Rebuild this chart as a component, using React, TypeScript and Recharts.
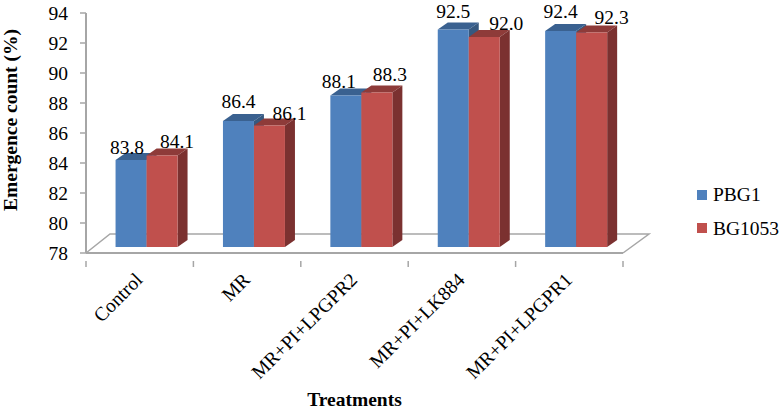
import { BarChart, Bar, XAxis, YAxis, Legend, LabelList, usePlotArea } from 'recharts';

const treatments = ['Control', 'MR', 'MR+PI+LPGPR2', 'MR+PI+LK884', 'MR+PI+LPGPR1'];
const pbg1 = [83.8, 86.4, 88.1, 92.5, 92.4];
const bg1053 = [84.1, 86.1, 88.3, 92.0, 92.3];
const yTicks = [78, 80, 82, 84, 86, 88, 90, 92, 94];

const chartData = treatments.map((name, i) => ({ name, PBG1: pbg1[i], BG1053: bg1053[i] }));

const FONT = '"Liberation Serif", "Times New Roman", serif';
const AXIS_GRAY = '#a6a6a6';
const FONT_SIZE = 19.5;

// fake 3D: front face is pushed off the axis, depth goes up and to the right
const SHIFT_X = 7;
const SHIFT_Y = -6;
const DEPTH_X = 10;
const DEPTH_Y = -7;
const FLOOR_X = 25;
const FLOOR_Y = -19;
const BAND = 107.4;

// hand placed label nudges, the original has them dragged around
const pbgLabelNudge = [[-4, -6], [0, -13], [-7, -8], [0, -12], [0, -13]];
const bgLabelNudge = [[15, -8], [20, -6], [13, -12], [22, -7], [20, -9]];

const Box3D = ({ x, y, width, height, front, top, side }: any) => {
  const fx = x + SHIFT_X;
  const fy = y + SHIFT_Y;
  const bottom = fy + height;
  return (
    <g>
      <polygon
        points={`${fx},${fy} ${fx + DEPTH_X},${fy + DEPTH_Y} ${fx + width + DEPTH_X},${fy + DEPTH_Y} ${fx + width},${fy}`}
        fill={top}
      />
      <polygon
        points={`${fx + width},${fy} ${fx + width + DEPTH_X},${fy + DEPTH_Y} ${fx + width + DEPTH_X},${bottom + DEPTH_Y} ${fx + width},${bottom}`}
        fill={side}
      />
      <rect x={fx} y={fy} width={width} height={height} fill={front} />
    </g>
  );
};

const Floor = () => {
  const plot = usePlotArea();
  if (!plot) return null;
  const left = plot.x;
  const right = plot.x + plot.width;
  const base = plot.y + plot.height;
  return (
    <polyline
      points={`${left},${base} ${left + FLOOR_X - 1},${base + FLOOR_Y} ${right + FLOOR_X + 1},${base + FLOOR_Y} ${right},${base}`}
      fill="none"
      stroke={AXIS_GRAY}
      strokeWidth={1.5}
    />
  );
};

const CategoryTick = ({ x, y, payload, index }: any) => (
  <g>
    <line x1={x - BAND / 2} y1={y} x2={x - BAND / 2} y2={y + 6} stroke={AXIS_GRAY} strokeWidth={1.5} />
    {index === treatments.length - 1 && (
      <line x1={x + BAND / 2} y1={y} x2={x + BAND / 2} y2={y + 6} stroke={AXIS_GRAY} strokeWidth={1.5} />
    )}
    <text
      x={x + 4}
      y={y + 20}
      textAnchor="end"
      fontFamily={FONT}
      fontSize={FONT_SIZE}
      fill="#000"
      transform={`rotate(-45 ${x + 4} ${y + 20})`}
    >
      {payload.value}
    </text>
  </g>
);

const makeValueLabel = (nudges: number[][]) => (props: any) => {
  const { x, y, width, value, index } = props;
  const [dx, dy] = nudges[index];
  return (
    <text
      x={x + SHIFT_X + width / 2 + dx}
      y={y + SHIFT_Y + dy}
      textAnchor="middle"
      fontFamily={FONT}
      fontSize={FONT_SIZE}
      fill="#000"
    >
      {Number(value).toFixed(1)}
    </text>
  );
};

const LegendContent = ({ payload }: any) => (
  <div>
    {(payload || []).map((entry: any) => (
      <div key={entry.value} style={{ display: 'flex', alignItems: 'center', height: 33.5 }}>
        <span style={{ width: 10, height: 10, background: entry.color, marginRight: 6 }} />
        <span style={{ fontFamily: FONT, fontSize: FONT_SIZE, color: '#000', lineHeight: 1 }}>{entry.value}</span>
      </div>
    ))}
  </div>
);

export default function App() {
  return (
    <div style={{ position: 'absolute', left: 0, top: 0, width: 780, height: 410, background: '#fff' }}>
      <BarChart
        width={780}
        height={410}
        data={chartData}
        margin={{ top: 13, right: 74, bottom: 0, left: 0 }}
        barCategoryGap="21%"
        barGap={0}
      >
        <Floor />
        <XAxis
          dataKey="name"
          height={157}
          interval={0}
          tickLine={false}
          axisLine={{ stroke: AXIS_GRAY, strokeWidth: 2 }}
          tick={<CategoryTick />}
          label={{
            value: 'Treatments',
            position: 'insideBottom',
            offset: 4,
            fontFamily: FONT,
            fontSize: FONT_SIZE,
            fontWeight: 'bold',
            fill: '#000',
          }}
        />
        <YAxis
          width={86}
          domain={[78, 94]}
          ticks={yTicks}
          interval={0}
          tickSize={6}
          tickMargin={12}
          axisLine={{ stroke: AXIS_GRAY, strokeWidth: 2 }}
          tickLine={{ stroke: AXIS_GRAY, strokeWidth: 1.5 }}
          tick={{ fontFamily: FONT, fontSize: FONT_SIZE, fill: '#000' }}
          label={{
            value: 'Emergence count (%)',
            angle: -90,
            position: 'insideLeft',
            dx: 5,
            dy: -13,
            style: { textAnchor: 'middle' },
            fontFamily: FONT,
            fontSize: FONT_SIZE,
            fontWeight: 'bold',
            fill: '#000',
          }}
        />
        <Legend
          layout="vertical"
          verticalAlign="top"
          align="right"
          itemSorter={null}
          content={<LegendContent />}
          wrapperStyle={{ left: 697, top: 178, width: 83, right: 'auto' }}
        />
        <Bar
          dataKey="PBG1"
          fill="#4f81bd"
          isAnimationActive={false}
          shape={(p: any) => <Box3D {...p} front="#4f81bd" top="#3a6190" side="#36587f" />}
        >
          <LabelList dataKey="PBG1" content={makeValueLabel(pbgLabelNudge)} />
        </Bar>
        <Bar
          dataKey="BG1053"
          fill="#c0504d"
          isAnimationActive={false}
          shape={(p: any) => <Box3D {...p} front="#c0504d" top="#8e3b39" side="#7b3130" />}
        >
          <LabelList dataKey="BG1053" content={makeValueLabel(bgLabelNudge)} />
        </Bar>
      </BarChart>
    </div>
  );
}
